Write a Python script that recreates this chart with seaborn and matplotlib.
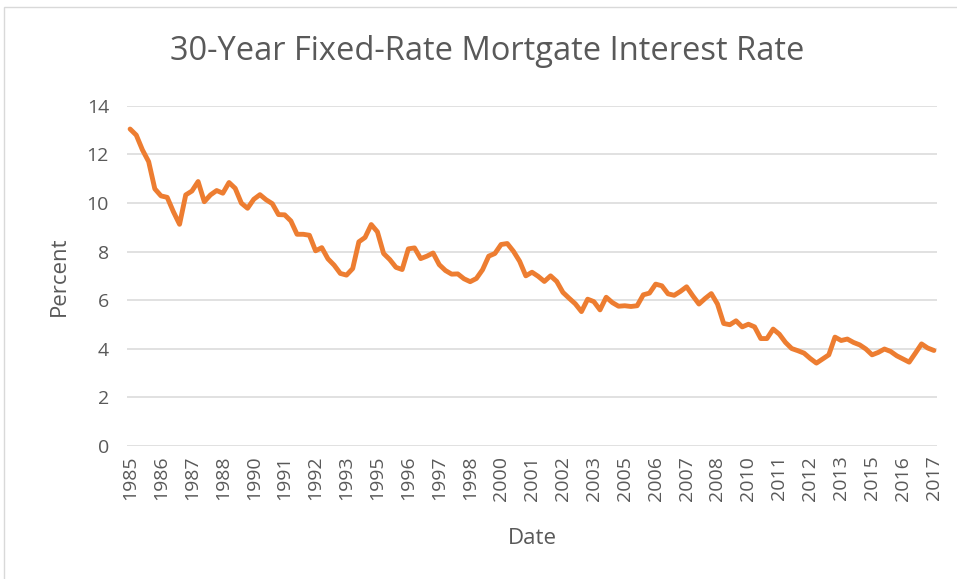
import matplotlib
matplotlib.use("Agg")
import matplotlib.pyplot as plt
import seaborn as sns
import numpy as np
import pandas as pd
from matplotlib.patches import Rectangle

# quarterly 30-year fixed mortgage rate, 1985Q1 .. 2017Q3
rate = [
    13.04, 12.79, 12.18, 11.70, 10.58, 10.29, 10.23, 9.64, 9.12, 10.33,
    10.49, 10.88, 10.05, 10.33, 10.51, 10.40, 10.84, 10.60, 9.99, 9.78,
    10.15, 10.34, 10.13, 9.97, 9.52, 9.51, 9.26, 8.71, 8.71, 8.67,
    8.03, 8.16, 7.70, 7.44, 7.10, 7.03, 7.30, 8.40, 8.58, 9.11,
    8.81, 7.92, 7.67, 7.35, 7.26, 8.11, 8.15, 7.71, 7.81, 7.94,
    7.46, 7.22, 7.07, 7.08, 6.88, 6.76, 6.89, 7.25, 7.81, 7.92,
    8.29, 8.33, 8.01, 7.60, 7.00, 7.15, 6.98, 6.77, 7.00, 6.77,
    6.32, 6.08, 5.85, 5.53, 6.04, 5.94, 5.60, 6.12, 5.90, 5.75,
    5.77, 5.74, 5.77, 6.22, 6.29, 6.66, 6.59, 6.26, 6.20, 6.36,
    6.55, 6.18, 5.84, 6.07, 6.27, 5.84, 5.04, 4.99, 5.15, 4.90,
    5.01, 4.90, 4.42, 4.42, 4.81, 4.60, 4.26, 4.01, 3.92, 3.82,
    3.60, 3.41, 3.58, 3.75, 4.48, 4.34, 4.40, 4.26, 4.16, 3.99,
    3.75, 3.85, 3.99, 3.89, 3.71, 3.58, 3.45, 3.82, 4.20, 4.03,
    3.93,
]
quarters = pd.period_range("1985Q1", periods=len(rate), freq="Q")
label_every = 5
y_ticks = [0, 2, 4, 6, 8, 10, 12, 14]

df = pd.DataFrame({"pos": np.arange(len(rate)), "rate": rate})

sns.set_style("white")
plt.rcParams["font.family"] = ["Open Sans", "DejaVu Sans"]
grey = "#595959"

fig = plt.figure(figsize=(9.57, 5.79), dpi=100)
ax = fig.add_axes([127 / 957, 1 - 446 / 579, 810 / 957, 340.3 / 579])

sns.lineplot(data=df, x="pos", y="rate", ax=ax, color="#ED7D31", linewidth=3.5,
             solid_joinstyle="round", solid_capstyle="round")

ax.set_xlim(-0.5, len(rate) - 0.5)
ax.set_ylim(0, 14)
ax.set_yticks(y_ticks)
ax.set_yticklabels([str(v) for v in y_ticks])
tick_pos = np.arange(0, len(rate), label_every)
ax.set_xticks(tick_pos)
ax.set_xticklabels([str(quarters[i].year) for i in tick_pos], rotation=90)
ax.tick_params(axis="both", length=0, labelsize=14, labelcolor=grey)
ax.tick_params(axis="x", pad=7)
ax.tick_params(axis="y", pad=13)
ax.grid(axis="y", color="#D9D9D9", linewidth=1.1)
ax.grid(axis="x", visible=False)
for s in ax.spines.values():
    s.set_visible(False)

ax.set_xlabel("Date", fontsize=16, color=grey, labelpad=20)
ax.set_ylabel("Percent", fontsize=16, color=grey, labelpad=12)
fig.text(487 / 957, 1 - 52 / 579, "30-Year Fixed-Rate Mortgate Interest Rate",
         ha="center", va="center", fontsize=23.5, color=grey)

# chart-area border, cut off at right and bottom like the screenshot
fig.patches.append(Rectangle((4 / 957, -0.1), 1.2, 1 - 7 / 579 + 0.1,
                             transform=fig.transFigure, fill=False,
                             edgecolor="#D9D9D9", linewidth=1.0))

fig.savefig("out.png", dpi=100, facecolor="white")
